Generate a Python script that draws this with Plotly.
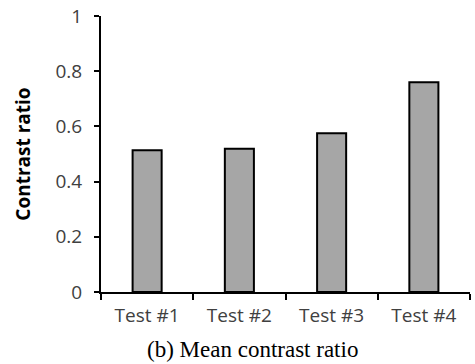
import plotly.graph_objects as go

# Mean contrast ratio per test
tests = ["Test #1", "Test #2", "Test #3", "Test #4"]
contrast = [0.514, 0.519, 0.575, 0.760]
y_ticks = [0, 0.2, 0.4, 0.6, 0.8, 1]
y_tick_text = ["0", "0.2", "0.4", "0.6", "0.8", "1"]

fig = go.Figure(
    go.Bar(
        x=tests,
        y=contrast,
        marker=dict(color="#a6a6a6", line=dict(color="black", width=2)),
    )
)

sans = "Open Sans, Noto Sans, sans-serif"

fig.update_layout(
    width=475,
    height=364,
    margin=dict(l=101, r=5, t=16, b=72),
    paper_bgcolor="white",
    plot_bgcolor="white",
    bargap=0.685,
    showlegend=False,
    xaxis=dict(
        range=[-0.5, 3.5],
        automargin=False,
        showline=True,
        linecolor="black",
        linewidth=2,
        ticks="outside",
        tickson="boundaries",
        ticklen=6,
        tickwidth=2,
        tickcolor="black",
        ticklabelstandoff=5,
        tickfont=dict(family=sans, size=19, color="#404040"),
        showgrid=False,
        zeroline=False,
    ),
    yaxis=dict(
        range=[0, 1],
        automargin=False,
        tickvals=y_ticks,
        ticktext=y_tick_text,
        showline=True,
        linecolor="black",
        linewidth=2,
        ticks="outside",
        ticklen=5,
        tickwidth=2,
        tickcolor="black",
        ticklabelstandoff=8,
        tickfont=dict(family=sans, size=19, color="#404040"),
        showgrid=False,
        zeroline=False,
        title=dict(
            text="<b>Contrast ratio</b>",
            font=dict(family=sans, size=19, color="black"),
            standoff=20,
        ),
    ),
    annotations=[
        dict(
            text="(b) Mean contrast ratio",
            xref="paper",
            yref="paper",
            x=0.41,
            y=-0.21,
            xanchor="center",
            yanchor="middle",
            showarrow=False,
            font=dict(family="Liberation Serif, Times New Roman, serif", size=23, color="black"),
        )
    ],
)

fig.write_html("out.html")
